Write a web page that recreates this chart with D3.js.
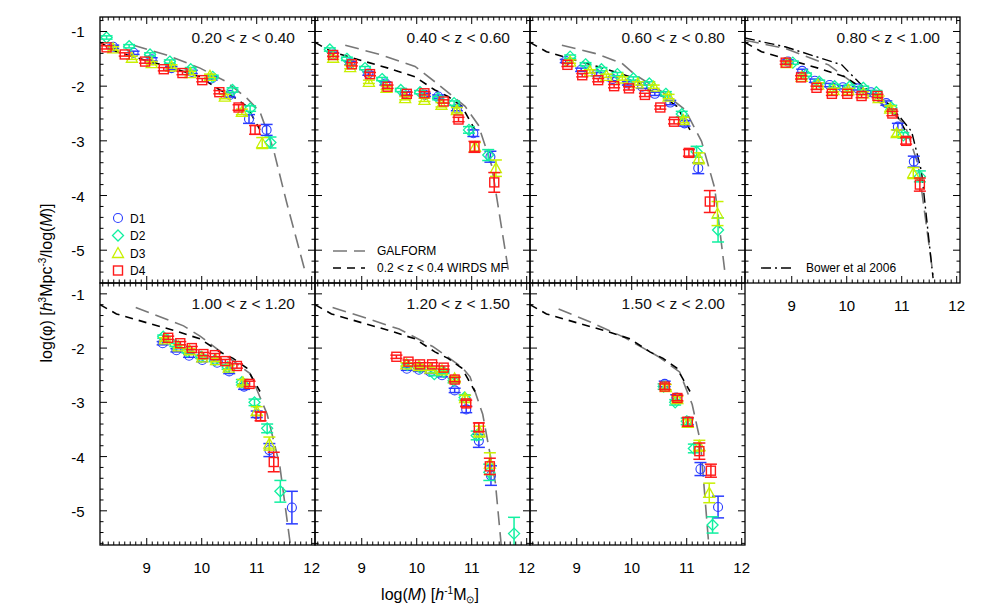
<!DOCTYPE html>
<html><head><meta charset="utf-8">
<script src="https://cdn.jsdelivr.net/npm/d3@7"></script>
<style>body{margin:0;background:#fff}text{font-family:"Liberation Sans",Arial,sans-serif}</style>
</head><body><svg id="c" width="981" height="613"></svg>
<script>
// ---- data ----
const panelTitles = ["0.20 < z < 0.40","0.40 < z < 0.60","0.60 < z < 0.80","0.80 < z < 1.00","1.00 < z < 1.20","1.20 < z < 1.50","1.50 < z < 2.00"];
const xTicks = [9,10,11,12];
const yTicks = [-1,-2,-3,-4,-5];
const seriesNames = ["D1","D2","D3","D4"];
const seriesColors = ["#2a3cff","#10f0a0","#c8f000","#ff1a1a"];
// WIRDS 0.2<z<0.4 MF (same in every panel)
const wirdsX = [8.15,8.45,9.06,9.48,9.97,10.33,10.57,10.82,11.06];
const wirdsY = [-1.2,-1.37,-1.55,-1.67,-1.83,-2.07,-2.19,-2.37,-2.8];
// Bower et al 2006 (panel 4)
const bowerX = [8.15,8.88,9.91,10.27,10.94,11.18,11.36,11.57];
const bowerY = [-1.12,-1.28,-1.61,-1.98,-2.53,-2.83,-3.56,-5.51];
// GALFORM per panel
const galX = [
 [8.76,9.36,9.97,10.45,10.82,11.06,11.3,11.54,11.88],
 [8.7,9.36,9.97,10.33,10.88,11.12,11.36,11.67],
 [8.73,9.33,9.82,10.06,10.55,10.97,11.27,11.51,11.7],
 [8.15,8.88,9.67,10.21,10.76,11.06,11.3,11.57],
 [8.8,9.67,9.97,10.43,10.88,11.19,11.42,11.61],
 [8.47,9.15,9.68,10.29,10.82,10.97,11.2,11.43,11.54],
 [8.67,9.27,9.88,10.49,10.87,11.1,11.25,11.4]];
const galY = [
 [-1.25,-1.43,-1.67,-1.92,-2.22,-2.47,-3.14,-4.11,-5.39],
 [-1.25,-1.43,-1.64,-1.92,-2.37,-2.71,-3.44,-5.39],
 [-1.25,-1.4,-1.58,-1.79,-2.1,-2.43,-3.01,-3.87,-5.45],
 [-1.16,-1.31,-1.61,-2.01,-2.41,-2.71,-3.44,-5.45],
 [-1.25,-1.59,-1.78,-2.13,-2.47,-3.22,-4.17,-5.61],
 [-1.25,-1.47,-1.65,-1.97,-2.35,-2.53,-3.22,-4.48,-5.67],
 [-1.28,-1.53,-1.81,-2.16,-2.44,-3.04,-3.73,-5.61]];
// data points per panel: [mass, logphi, err]
const D1 = [
 [[8.39,-1.28,.03],[8.76,-1.39,.03],[9.09,-1.51,.03],[9.45,-1.67,.03],[9.82,-1.74,.03],[10.18,-1.86,.03],[10.51,-2.16,.04],[10.86,-2.6,.08],[11.18,-2.8,.1]],
 [[8.48,-1.42,.03],[8.79,-1.58,.03],[9.12,-1.77,.03],[9.43,-1.95,.03],[9.79,-2.13,.03],[10.15,-2.16,.03],[10.39,-2.19,.03],[10.73,-2.41,.04],[11.03,-2.86,.06],[11.34,-3.29,.1]],
 [[8.8,-1.54,.03],[9.08,-1.7,.03],[9.36,-1.78,.03],[9.65,-1.87,.03],[9.93,-1.95,.03],[10.19,-2.01,.03],[10.42,-2.14,.03],[10.7,-2.3,.04],[10.96,-2.68,.05],[11.21,-3.5,.1]],
 [[8.93,-1.55,.03],[9.19,-1.72,.03],[9.42,-1.9,.03],[9.69,-1.98,.03],[9.93,-2.02,.03],[10.2,-2.04,.03],[10.44,-2.11,.03],[10.72,-2.31,.04],[10.93,-2.74,.06],[11.22,-3.38,.1]],
 [[9.29,-1.91,.03],[9.54,-2.04,.03],[9.77,-2.14,.03],[10.01,-2.22,.03],[10.28,-2.27,.03],[10.5,-2.43,.04],[10.77,-2.71,.05],[11.0,-3.22,.06],[11.23,-3.88,.12],[11.64,-4.94,.3]],
 [[9.82,-2.38,.03],[10.04,-2.4,.03],[10.25,-2.44,.03],[10.46,-2.5,.03],[10.69,-2.78,.04],[10.9,-3.13,.06],[11.13,-3.71,.12],[11.35,-4.35,.18]],
 [[10.6,-2.66,.05],[10.81,-2.91,.05],[11.02,-3.35,.06],[11.25,-4.23,.12],[11.57,-4.93,.2]]];
const D2 = [
 [[8.27,-1.11,.03],[8.68,-1.27,.03],[9.06,-1.42,.03],[9.42,-1.55,.03],[9.8,-1.69,.03],[10.2,-1.83,.03],[10.56,-2.07,.04],[10.88,-2.41,.05],[11.25,-3.03,.1]],
 [[8.42,-1.33,.03],[8.73,-1.5,.03],[9.06,-1.67,.03],[9.37,-1.87,.03],[9.71,-2.07,.03],[10.06,-2.11,.03],[10.39,-2.22,.03],[10.68,-2.31,.04],[10.95,-2.8,.06],[11.3,-3.26,.1]],
 [[8.88,-1.46,.03],[9.16,-1.6,.03],[9.45,-1.69,.03],[9.74,-1.78,.03],[10.03,-1.86,.03],[10.32,-1.95,.03],[10.62,-2.14,.04],[10.91,-2.51,.05],[11.18,-3.2,.1],[11.57,-4.63,.22]],
 [[9.02,-1.57,.03],[9.26,-1.79,.03],[9.5,-1.92,.03],[9.78,-2.0,.03],[10.05,-2.01,.03],[10.3,-2.03,.03],[10.54,-2.11,.03],[10.81,-2.39,.04],[11.03,-2.9,.05],[11.33,-3.65,.1]],
 [[9.3,-1.79,.03],[9.52,-1.94,.03],[9.74,-2.06,.03],[9.99,-2.16,.03],[10.24,-2.22,.03],[10.47,-2.35,.04],[10.73,-2.63,.05],[10.96,-3.0,.06],[11.19,-3.48,.08],[11.43,-4.64,.2]],
 [[9.83,-2.31,.03],[10.06,-2.36,.03],[10.32,-2.48,.03],[10.49,-2.44,.03],[10.67,-2.6,.04],[10.87,-2.91,.05],[11.09,-3.61,.08],[11.32,-4.29,.15],[11.77,-5.42,.3]],
 [[10.58,-2.71,.05],[10.79,-3.0,.05],[11.0,-3.35,.06],[11.13,-3.85,.08],[11.47,-5.26,.15]]];
const D3 = [
 [[8.39,-1.31,.03],[8.73,-1.48,.03],[9.09,-1.58,.03],[9.45,-1.64,.03],[9.79,-1.76,.03],[10.15,-1.81,.03],[10.42,-2.19,.04],[10.73,-2.47,.05],[11.1,-3.04,.1]],
 [[8.48,-1.48,.03],[8.79,-1.65,.03],[9.13,-1.92,.03],[9.45,-2.03,.03],[9.79,-2.22,.03],[10.14,-2.25,.03],[10.45,-2.34,.04],[10.73,-2.44,.05],[11.06,-3.11,.08],[11.44,-3.5,.15]],
 [[8.88,-1.55,.03],[9.24,-1.73,.03],[9.54,-1.81,.03],[9.83,-1.86,.03],[10.11,-1.95,.03],[10.4,-2.01,.03],[10.67,-2.19,.04],[10.94,-2.62,.05],[11.22,-3.32,.1],[11.56,-4.33,.22]],
 [[8.91,-1.58,.03],[9.18,-1.83,.03],[9.48,-1.97,.03],[9.76,-2.07,.03],[10.03,-2.07,.03],[10.3,-2.13,.03],[10.58,-2.22,.04],[10.79,-2.41,.05],[10.91,-2.86,.06],[11.21,-3.59,.1]],
 [[9.33,-1.84,.03],[9.58,-1.97,.03],[9.78,-2.04,.03],[10.01,-2.17,.03],[10.26,-2.22,.03],[10.49,-2.36,.04],[10.75,-2.63,.05],[11.0,-3.16,.08],[11.23,-3.76,.12]],
 [[9.81,-2.3,.03],[10.04,-2.33,.03],[10.25,-2.38,.03],[10.46,-2.41,.03],[10.69,-2.56,.04],[10.88,-2.92,.05],[11.14,-3.54,.1],[11.33,-4.13,.2]],
 [[10.62,-2.72,.05],[10.83,-2.94,.05],[11.02,-3.38,.06],[11.23,-3.8,.1],[11.41,-4.67,.18]]];
const D4 = [
 [[8.27,-1.29,.03],[8.6,-1.42,.03],[8.97,-1.55,.03],[9.31,-1.69,.03],[9.65,-1.76,.03],[10.01,-1.89,.03],[10.32,-2.11,.03],[10.67,-2.39,.05],[10.97,-2.8,.08]],
 [[8.48,-1.43,.03],[8.82,-1.6,.03],[9.15,-1.78,.03],[9.47,-2.01,.03],[9.82,-2.14,.03],[10.14,-2.13,.03],[10.49,-2.28,.03],[10.76,-2.61,.04],[11.05,-3.11,.1],[11.41,-3.76,.18]],
 [[8.83,-1.61,.03],[9.1,-1.8,.03],[9.39,-1.89,.03],[9.68,-2.0,.03],[9.95,-2.04,.03],[10.24,-2.16,.03],[10.52,-2.39,.03],[10.77,-2.65,.04],[11.04,-3.22,.06],[11.42,-4.11,.2]],
 [[8.89,-1.57,.03],[9.17,-1.84,.03],[9.45,-2.03,.03],[9.73,-2.14,.03],[10.01,-2.14,.03],[10.27,-2.18,.03],[10.56,-2.18,.03],[10.83,-2.5,.04],[11.08,-3.0,.06],[11.33,-3.8,.12]],
 [[9.39,-1.81,.03],[9.61,-1.91,.03],[9.82,-2.0,.03],[10.03,-2.11,.03],[10.24,-2.13,.03],[10.43,-2.24,.03],[10.64,-2.33,.04],[10.87,-2.66,.05],[11.07,-3.26,.08],[11.31,-4.1,.18]],
 [[9.63,-2.16,.03],[9.85,-2.25,.03],[10.06,-2.3,.03],[10.28,-2.3,.03],[10.49,-2.36,.03],[10.69,-2.58,.04],[10.9,-3.02,.06],[11.13,-3.46,.08],[11.33,-4.18,.15]],
 [[10.6,-2.71,.05],[10.83,-2.92,.05],[11.02,-3.36,.08],[11.23,-3.9,.15],[11.44,-4.26,.12]]];
const seriesData = [D1,D2,D3,D4];

// ---- layout ----
const svg = d3.select("#c");
const PW = 215, L0 = 100;
const rows = [{top:17,bot:283},{top:283,bot:545}];
const xDom = [8.15,12.06];
const yDomTop = [-5.6,-0.735], yDomBot = [-5.63,-0.8];

function symbol(g, k, x, y, col){
  const s=4.5;
  if(k===0) g.append("circle").attr("cx",x).attr("cy",y).attr("r",s).attr("fill","none").attr("stroke",col).attr("stroke-width",1.1);
  else if(k===1) g.append("path").attr("d",`M${x},${y-s-1}L${x+s+1},${y}L${x},${y+s+1}L${x-s-1},${y}Z`).attr("fill","none").attr("stroke",col).attr("stroke-width",1.3);
  else if(k===2) g.append("path").attr("d",`M${x},${y-s-1}L${x+s+1},${y+s}L${x-s-1},${y+s}Z`).attr("fill","none").attr("stroke",col).attr("stroke-width",1.3);
  else g.append("rect").attr("x",x-s).attr("y",y-s).attr("width",2*s).attr("height",2*s).attr("fill","none").attr("stroke",col).attr("stroke-width",1.4);
}

panelTitles.forEach((title,p)=>{
  const r = p<4?0:1, c = p<4?p:p-4;
  const left = L0 + c*PW, R = rows[r];
  const x = d3.scaleLinear().domain(xDom).range([left,left+PW]);
  const y = d3.scaleLinear().domain(r===0?yDomTop:yDomBot).range([R.bot,R.top]);
  const g = svg.append("g");
  const clipId="cl"+p;
  g.append("clipPath").attr("id",clipId).append("rect").attr("x",left).attr("y",R.top).attr("width",PW).attr("height",R.bot-R.top);
  const gc = g.append("g").attr("clip-path",`url(#${clipId})`);
  const line = d3.line().x(d=>x(d[0])).y(d=>y(d[1]));
  gc.append("path").datum(galX[p].map((v,i)=>[v,galY[p][i]])).attr("d",line).attr("fill","none").attr("stroke","#777").attr("stroke-width",1.6).attr("stroke-dasharray","14,7");
  gc.append("path").datum(wirdsX.map((v,i)=>[v,wirdsY[i]])).attr("d",line).attr("fill","none").attr("stroke","#000").attr("stroke-width",1.6).attr("stroke-dasharray","8,6");
  if(p===3) gc.append("path").datum(bowerX.map((v,i)=>[v,bowerY[i]])).attr("d",line).attr("fill","none").attr("stroke","#000").attr("stroke-width",1.4).attr("stroke-dasharray","10,4,2,4");
  seriesData.forEach((S,k)=>{
    const col=seriesColors[k];
    S[p].forEach(d=>{
      const cx=x(d[0]), y1=y(d[1]+d[2]), y2=y(d[1]-d[2]);
      gc.append("line").attr("x1",cx).attr("x2",cx).attr("y1",y1).attr("y2",y2).attr("stroke",col).attr("stroke-width",1.5);
      [y1,y2].forEach(yy=>gc.append("line").attr("x1",cx-6).attr("x2",cx+6).attr("y1",yy).attr("y2",yy).attr("stroke",col).attr("stroke-width",1.5));
      symbol(gc,k,cx,y(d[1]),col);
    });
  });
  g.append("rect").attr("x",left).attr("y",R.top).attr("width",PW).attr("height",R.bot-R.top).attr("fill","none").attr("stroke","#000").attr("stroke-width",1.3);
  const xMinor = d3.range(81,121).map(v=>v/10).filter(v=>v>xDom[0]&&v<xDom[1]);
  const yd = r===0?yDomTop:yDomBot;
  const yMinor = d3.range(-56,-7,2).map(v=>v/10).filter(v=>v>yd[0]&&v<yd[1]);
  xMinor.forEach(v=>{const maj=Math.abs(v-Math.round(v))<1e-6, L=maj?7:3.5;
    g.append("line").attr("x1",x(v)).attr("x2",x(v)).attr("y1",R.bot).attr("y2",R.bot-L).attr("stroke","#000");
    g.append("line").attr("x1",x(v)).attr("x2",x(v)).attr("y1",R.top).attr("y2",R.top+L).attr("stroke","#000");});
  yMinor.forEach(v=>{const maj=Math.abs(v-Math.round(v))<1e-6, L=maj?7:3.5;
    g.append("line").attr("x1",left).attr("x2",left+L).attr("y1",y(v)).attr("y2",y(v)).attr("stroke","#000");
    g.append("line").attr("x1",left+PW).attr("x2",left+PW-L).attr("y1",y(v)).attr("y2",y(v)).attr("stroke","#000");});
  g.append("text").attr("x",left+PW-20).attr("y",R.top+26).attr("text-anchor","end").attr("font-size",15.5).attr("fill","#111").text(title);
  if(c===0) yTicks.forEach(t=>g.append("text").attr("x",left-22).attr("y",y(t)+6).attr("text-anchor","middle").attr("font-size",15).text(t));
  if(r===1||p===3) xTicks.forEach(t=>g.append("text").attr("x",x(t)).attr("y",R.bot+28).attr("text-anchor","middle").attr("font-size",15).text(t));
  if(p===0){
    seriesNames.forEach((n,k)=>{const ly=218+k*17.5; symbol(g,k,118,ly,seriesColors[k]);
      g.append("text").attr("x",130).attr("y",ly+4.5).attr("font-size",12).text(n);});
  }
  if(p===1){
    g.append("line").attr("x1",left+18).attr("x2",left+50).attr("y1",251).attr("y2",251).attr("stroke","#777").attr("stroke-width",1.6).attr("stroke-dasharray","14,7");
    g.append("line").attr("x1",left+18).attr("x2",left+50).attr("y1",268).attr("y2",268).attr("stroke","#000").attr("stroke-width",1.6).attr("stroke-dasharray","8,6");
    g.append("text").attr("x",left+62).attr("y",255).attr("font-size",12).text("GALFORM");
    g.append("text").attr("x",left+62).attr("y",272).attr("font-size",12).text("0.2 < z < 0.4 WIRDS MF");
  }
  if(p===3){
    g.append("line").attr("x1",left+16).attr("x2",left+50).attr("y1",268).attr("y2",268).attr("stroke","#000").attr("stroke-width",1.4).attr("stroke-dasharray","10,4,2,4");
    g.append("text").attr("x",left+61).attr("y",272).attr("font-size",12).text("Bower et al 2006");
  }
});
const yt = svg.append("text").attr("transform","translate(52,283) rotate(-90)").attr("text-anchor","middle").attr("font-size",16);
yt.append("tspan").text("log(");
yt.append("tspan").text("φ");
yt.append("tspan").text(")  [");
yt.append("tspan").attr("font-style","italic").text("h");
yt.append("tspan").attr("font-size",10).attr("dy",-6).text("3");
yt.append("tspan").attr("dy",6).text("Mpc");
yt.append("tspan").attr("font-size",10).attr("dy",-6).text("-3");
yt.append("tspan").attr("dy",6).text("/log(");
yt.append("tspan").attr("font-style","italic").text("M");
yt.append("tspan").text(")]");
const xt = svg.append("text").attr("x",430).attr("y",600).attr("text-anchor","middle").attr("font-size",16);
xt.append("tspan").text("log(");
xt.append("tspan").attr("font-style","italic").text("M");
xt.append("tspan").text(")  [");
xt.append("tspan").attr("font-style","italic").text("h");
xt.append("tspan").attr("font-size",10).attr("dy",-6).text("-1");
xt.append("tspan").attr("dy",6).text("M");
xt.append("tspan").attr("font-size",10).attr("dy",3).text("⊙");
xt.append("tspan").attr("dy",-3).text("]");
</script></body></html>
